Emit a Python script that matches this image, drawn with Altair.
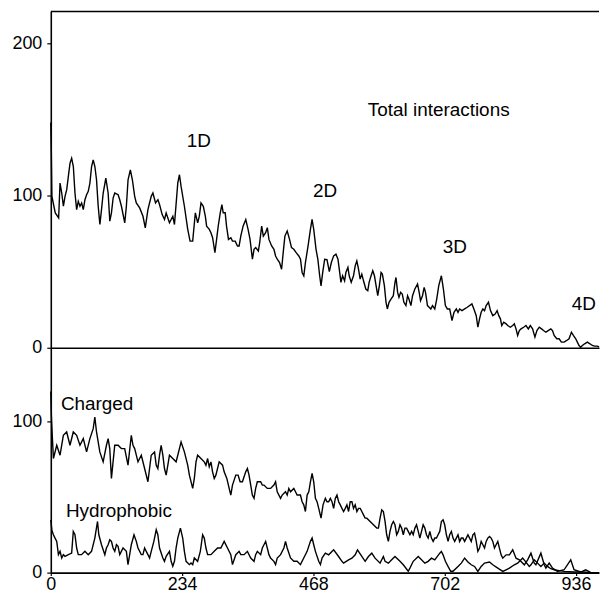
import altair as alt
import pandas as pd

# ---------------- data ----------------
x_ticks = [0, 234, 468, 702, 936]
top_y_ticks = [0, 100, 200]
bottom_y_ticks = [0, 100]

total_x = [0, 1, 2, 8, 14, 16.5, 19.5, 22.5, 25.4, 28.4, 31.3, 34.3, 37.2, 40.2, 43.1, 46.1, 49, 52, 55, 57.9,
           60.9, 63.8, 66.8, 69.7, 72.7, 75.6, 78.6, 81.5, 84.5, 87.5, 90.4, 93.4, 98.1, 102.2, 105.2, 108.1,
           111.1, 114, 120, 122.9, 125.9, 131.8, 134.7, 137.7, 141.8, 145.4, 149.5, 152.4, 158.4, 164.3, 168.4,
           173.1, 179, 182, 186.7, 190.9, 193.8, 198.5, 202.7, 205.6, 211.5, 217.5, 220.4, 226.3, 229.3, 232.2,
           238.1, 244, 248.2, 252.9, 257.6, 261.8, 264.7, 267.7, 271.8, 275.4, 277.7, 282.5, 285.4, 288.4, 292.5,
           295.5, 298.4, 302, 304.9, 307.3, 310.8, 313.2, 316.7, 320.9, 323.8, 328.6, 332.7, 335.6, 338.6, 342.7,
           347.5, 351.6, 355.1, 359.3, 362.2, 365.2, 369.9, 372.3, 375.8, 378.8, 382.9, 385.9, 388.8, 393.6, 397.7,
           400.6, 403.6, 407.7, 411.3, 414.2, 417.2, 421.3, 425.5, 429, 433.1, 437.3, 442, 445, 447.9, 450.9, 453.8,
           458.5, 462.7, 465.6, 468.6, 472.7, 475.9, 479.2, 481.6, 484.6, 488.1, 492.2, 496.4, 500, 504.1, 508.2,
           511.8, 514.1, 517.1, 520, 523.6, 525.9, 529.5, 531.8, 535.4, 539.5, 542.5, 545.4, 548.4, 551.3, 554.3,
           557.3, 561.4, 564.9, 567.3, 570.8, 573.8, 576.8, 579.7, 582.7, 585.6, 588.6, 590.9, 594.5, 597.4, 599.8,
           602.8, 606.3, 610.4, 613.4, 615.2, 618.1, 620.5, 623.4, 626.4, 629.3, 632.9, 635.8, 638.2, 641.8, 644.7,
           648.8, 653.6, 656.5, 658.9, 662.4, 665.4, 667.8, 671.3, 674.3, 677.2, 680.2, 684.3, 687.8, 691.4, 696.1,
           699.7, 703.2, 706.8, 710.9, 715, 718.6, 722.7, 725.7, 728.6, 732.8, 737.5, 742.2, 750.5, 754, 758.2,
           761.1, 764.1, 767, 770, 773, 775.9, 780, 783.6, 787.7, 791.9, 795.4, 798.4, 801.3, 803.7, 807.2, 811.4,
           814.3, 819, 823.2, 826.1, 829.1, 832, 835, 838, 842.7, 846.8, 851, 854.5, 858.6, 862.8, 866.3, 870.5,
           874.6, 878.1, 882.3, 886.4, 891.1, 894.1, 897, 901.8, 905.9, 910, 914.8, 919.5, 923.6, 927.8, 931.3,
           935.5, 938.4, 941.4, 944.3, 947.3, 951.4, 956.2, 960.9, 965, 969.1, 973.9, 977]
total_y = [148, 128, 99.5, 88.6, 85.3, 108.2, 101.7, 93, 99.5, 103.9, 112.6, 121.3, 124.6, 119.1, 101.7, 90.8, 96.2,
           93, 95.2, 90.8, 97.3, 100.6, 102.8, 108.2, 119.1, 123.5, 119.1, 110.4, 93, 81, 90.8, 101.7, 111.5, 101.7,
           83.2, 88.6, 98.4, 101.7, 100.6, 97.3, 93, 82.1, 93, 110.4, 116.9, 110.4, 99.5, 95.2, 91.9, 86.4, 78.8,
           90.8, 99.5, 101.7, 95.2, 97.3, 94.1, 87.5, 84.3, 88.6, 82.1, 86.4, 81, 108.2, 113.7, 106, 93, 78, 70.1,
           70.1, 88.7, 82.1, 86.5, 95.2, 93, 86.5, 79.9, 77.8, 75.6, 72.3, 62.5, 71.2, 79.9, 88.7, 94.1, 88.7, 88.7,
           79.9, 71.2, 72.3, 70.1, 70.1, 66.9, 66.9, 73.4, 79.9, 84.3, 77.8, 71.2, 58.2, 64.7, 65.8, 63.6, 69, 79.9,
           73.4, 75.6, 78.9, 71.2, 66.9, 64.7, 60.3, 58.2, 56, 51.6, 62.5, 73.4, 76.7, 71.2, 65.8, 64.7, 62.5, 60.3,
           58.2, 49.5, 47.3, 56, 66.9, 77.8, 84.3, 77.8, 64.7, 58.2, 47.3, 40.7, 49.5, 58.2, 58, 50, 56, 60.4, 61.5,
           58.2, 51.7, 43, 47.3, 44, 49.5, 52.8, 47.3, 43, 47.3, 53.8, 57.1, 51.7, 45.1, 48.4, 44, 38.6, 37.5, 43,
           47.3, 50.6, 47.3, 40.8, 34.2, 40.8, 49.5, 48.4, 40.8, 29.9, 25.5, 29.9, 32, 34.2, 43, 46.2, 36.4, 33.1,
           36.4, 35.3, 29.9, 27.7, 34.2, 32, 27.7, 34.2, 38.6, 41.9, 36.4, 31, 34.2, 39.7, 36.4, 27.7, 26.6, 25.5,
           27.7, 25.5, 32, 40.8, 47.3, 38.6, 27.7, 25.5, 25.5, 17.9, 23.3, 25.5, 23.3, 25.5, 24.4, 25.5, 26.6, 28.8,
           25.5, 21.1, 13.5, 19, 23.3, 25.5, 24.4, 27.7, 29.9, 24.4, 21.1, 22.2, 24.4, 21.1, 19, 14.6, 16.8, 15.7,
           14.6, 13.5, 14.6, 15.7, 12.4, 8.1, 11.3, 12.4, 13.5, 14.6, 12.4, 14.6, 12.4, 7, 11.3, 13.5, 12.4, 11.3,
           10.2, 11.3, 12.4, 11.3, 8.1, 5.9, 5.9, 3.7, 3.7, 4.8, 5.9, 10.2, 8.1, 5.9, 3.7, 1.5, 0.4, 1.5, 2.6, 3.7,
           2.6, 1.5, 1.1, 1.1, 0.6]

charged_x = [0, 1, 3, 4.7, 10.6, 16.5, 22.4, 28.3, 34.2, 40.1, 46.1, 52, 57.9, 63.8, 69.7, 75.6, 78.5, 81.5, 87.4,
             93.3, 99.2, 102.2, 105.1, 108.1, 111, 114, 119.9, 125.8, 131.7, 137.6, 143.5, 146.5, 149.5, 155.4,
             161.3, 167.2, 173.1, 179, 184.9, 187.9, 190.8, 193.8, 196.7, 199.7, 202.6, 205.6, 208.6, 211.5, 217.4,
             223.3, 226.3, 232.2, 238.1, 244, 247, 252.9, 255.8, 258.8, 261.7, 267.6, 273.5, 276.5, 279.5, 282.4,
             285.4, 288.3, 291.3, 294.2, 300.1, 306.1, 309, 313.7, 317.9, 320.8, 323.8, 329.7, 333.8, 337.4, 341.5,
             347.4, 350.4, 353.3, 356.3, 359.2, 362.2, 365.1, 368.1, 374, 377, 379.9, 385.8, 391.7, 397.6, 400.6,
             403.5, 409.5, 412.4, 418.3, 421.3, 424.2, 427.2, 433.1, 436.1, 439, 444.9, 447.9, 450.8, 453.8, 456.8,
             459.8, 462.7, 465.7, 468.6, 471.6, 474.5, 477.5, 481.6, 485.2, 489.3, 492.3, 495.2, 498.2, 501.1,
             504.1, 507, 510, 513, 515.9, 518.9, 521.8, 524.8, 527.7, 530.7, 533.6, 536.6, 539.5, 542.5, 545.5,
             548.4, 551.4, 554.3, 557.3, 560.2, 563.2, 569.1, 575, 580.9, 583.9, 586.8, 589.8, 592.7, 595.7, 598.6,
             601.6, 604.5, 607.5, 610.5, 613.4, 616.4, 619.3, 622.3, 625.2, 628.2, 631.1, 634.1, 637, 640, 643,
             645.9, 648.9, 651.8, 654.8, 657.7, 660.7, 663.6, 666.6, 669.5, 672.5, 675.5, 678.4, 681.4, 684.3,
             687.3, 690.2, 693.2, 696.1, 699.1, 702, 705, 708, 710.9, 713.9, 716.8, 719.8, 722.7, 725.7, 728.6,
             731.6, 734.5, 737.5, 740.5, 743.4, 746.4, 749.3, 752.3, 755.2, 758.2, 761.1, 764.1, 767, 770, 773,
             775.9, 778.9, 781.8, 784.8, 787.7, 790.7, 793.6, 796.6, 802.5, 805.5, 811.4, 817.3, 823.2, 829.1, 835,
             843.9, 849.8, 855.7, 861.6, 864.5, 873.4, 879.3, 882.3, 888.2, 894.1, 903, 914.8, 926.6, 932.5, 944.3,
             953.2, 962, 974, 977]
charged_y = [120, 105, 88, 75.6, 84.4, 77.8, 91, 93.2, 84.4, 93.2, 91, 84.4, 88.8, 80, 88.8, 95.4, 103.1, 93.2, 80,
             73.4, 84.4, 88.8, 82.2, 62.4, 73.4, 84.4, 84.4, 82.2, 82.2, 71.2, 91, 84.4, 82.2, 73.4, 77.8, 69, 60.2,
             77.8, 80, 71.2, 69, 77.8, 84.4, 77.8, 69, 64.6, 71.2, 77.8, 75.6, 73.4, 77.8, 86.6, 80, 71.2, 64.6, 55.8,
             62.4, 73.4, 77.8, 75.6, 73.4, 71.2, 75.6, 70.1, 73.4, 66.8, 62.4, 64.6, 73.4, 71.2, 66.8, 62.4, 55.8,
             51.4, 58, 64.6, 64.6, 60.2, 60.2, 66.8, 69, 64.6, 58, 51.4, 49.2, 55.8, 60.2, 60.2, 58, 58, 55.8, 55.8,
             58, 60.2, 53.6, 49.2, 51.4, 53.6, 51.4, 55.8, 53.6, 55.8, 53.6, 51.4, 51.4, 47, 44.9, 40.5, 51.4, 53.6,
             60.2, 65.7, 60.2, 49.2, 47, 42.6, 36.1, 44.9, 49.2, 47, 47, 49.2, 47, 42.6, 49.2, 51.4, 47, 44.9, 42.6,
             40.5, 42.6, 44.9, 40.5, 47, 47, 42.6, 44.9, 40.5, 42.6, 42.6, 40.5, 38.3, 36.1, 36.1, 33.9, 31.7, 29.5,
             29.5, 36.1, 41.6, 40.5, 33.9, 25.1, 20.7, 27.3, 31.7, 33.9, 31.7, 25.1, 27.3, 31.7, 29.5, 25.1, 29.5,
             29.5, 27.3, 25.1, 27.3, 25.1, 29.5, 31.7, 27.3, 22.9, 27.3, 31.7, 29.5, 25.1, 22.9, 27.3, 22.9, 20.7,
             22.9, 22.9, 25.1, 27.3, 33.9, 35, 31.7, 25.1, 20.7, 25.1, 27.3, 22.9, 20.7, 22.9, 25.1, 20.7, 22.9,
             22.9, 20.7, 22.9, 25.1, 22.9, 20.7, 25.1, 26.2, 20.7, 14.1, 16.3, 20.7, 18.5, 16.3, 20.7, 22.9, 24,
             22.9, 20.7, 16.3, 18.5, 20.6, 11.8, 9.6, 11.8, 11.8, 15.1, 9.6, 8.5, 5.2, 8.5, 12.9, 6.3, 5.2, 12.9,
             5.2, 3, 6.3, 3, 0.8, 1.9, 8.5, 1.9, 0.4, 1.9, 0.2, 0, 0]

hydro_x = [0, 2, 4.7, 7.6, 10.6, 13.6, 16.5, 19.5, 22.4, 25.4, 31.3, 37.2, 40.1, 43.1, 46.1, 49, 54.9, 60.8, 66.7,
           72.6, 78.5, 83.3, 85.6, 90.4, 96.3, 99.2, 102.2, 105.1, 108.1, 111, 114, 117, 119.9, 122.9, 128.8, 134.7,
           137.6, 140.6, 143.5, 148.3, 152.4, 155.4, 161.3, 164.2, 167.2, 170.1, 173.1, 176.1, 179, 183.7, 187.9,
           190.8, 193.8, 199.7, 202.6, 205.6, 211.5, 214.5, 217.4, 220.4, 223.3, 226.3, 231, 235.1, 238.1, 241.1,
           247, 249.9, 252.9, 255.8, 261.7, 266.5, 270.6, 273.5, 276.5, 279.5, 285.4, 291.3, 297.2, 303.1, 309,
           314.9, 320.8, 323.8, 329.7, 335.6, 338.6, 344.5, 350.4, 356.3, 362.2, 365.1, 368.1, 374, 377, 379.9,
           382.9, 385.8, 388.8, 391.7, 397.6, 400.6, 403.5, 409.5, 415.4, 418.3, 421.3, 427.2, 433.1, 439, 444.9,
           450.8, 456.8, 462.7, 465.7, 468.6, 471.6, 477.5, 480.5, 483.4, 489.3, 495.2, 504.1, 512.9, 518.8, 521.8,
           530.7, 536.6, 542.5, 546.6, 554.3, 560.2, 566.1, 572, 577.9, 586.8, 592.7, 595.7, 601.6, 607.5, 613.4,
           622.3, 628.2, 637, 640, 645.9, 654.8, 660.7, 666.6, 672.5, 678.4, 684.3, 693.2, 696.1, 699.1, 703.2,
           707.9, 712.7, 716.8, 725.7, 731.6, 737.5, 743.4, 749.3, 755.2, 761.1, 767, 773, 781.8, 787.7, 796.6,
           805.5, 811.4, 817.3, 826.1, 832, 838, 840.9, 846.8, 852.7, 855.7, 861.6, 867.5, 873.4, 879.3, 885.2,
           891.1, 897, 905.9, 914.8, 932.5, 950.2, 962, 977]
hydro_y = [35, 28, 25.1, 22.9, 20.7, 11.9, 14.1, 9.7, 11.9, 10.8, 11.9, 13, 27.3, 25.1, 16.3, 11.9, 11.9, 14.1, 11.9,
           14.1, 22.9, 33.9, 25.1, 18.5, 11.9, 16.3, 18.5, 21.8, 20.7, 16.3, 14.1, 18.5, 17.4, 11.9, 16.3, 14.1, 5.3,
           11.9, 18.5, 25.1, 20.7, 16.3, 11.9, 11.9, 16.3, 14.1, 11.9, 9.7, 14.1, 20.7, 28.4, 25.1, 16.3, 9.7, 7.5,
           10.8, 14.1, 7.5, 4.2, 7.5, 16.3, 22.9, 29.5, 22.9, 14.1, 7.5, 5.3, 6.4, 5.3, 9.7, 7.5, 14.1, 25.1, 22.9,
           16.3, 11.9, 11.9, 14.1, 16.3, 16.3, 20.7, 16.3, 11.9, 5.3, 11.9, 14.1, 11.9, 11.9, 14.1, 9.7, 7.5, 11.9,
           14.1, 11.9, 16.3, 18.5, 20.7, 16.3, 11.9, 9.7, 7.5, 5.3, 9.7, 11.9, 16.3, 20.7, 16.3, 9.7, 7.5, 7.5, 5.3,
           9.7, 14.1, 20.7, 22.9, 18.5, 14.1, 7.5, 5.3, 9.7, 12.9, 11.8, 15.1, 10.7, 7.5, 6.3, 8.5, 9.6, 11.8, 15.1,
           10.7, 7.5, 10.7, 12.9, 9.6, 6.3, 10.7, 7.5, 6.3, 8.5, 10.7, 7.5, 5.2, 0.9, 3, 7.5, 10.7, 8.5, 6.3, 7.5,
           9.6, 8.5, 12.9, 14, 11.8, 7.5, 4.1, 0.9, 0.9, 4.1, 6.3, 9.6, 7, 5.2, 4.1, 0.8, 4.1, 6.3, 7, 5.2, 3, 0.8,
           1.9, 3, 5.2, 6.3, 8.5, 9.6, 7, 4.1, 5.2, 8.5, 6.3, 4.1, 6.3, 4.1, 2.6, 1.9, 1.3, 0.8, 0.4, 0.4, 0, 0]

# text annotations (data units)
top_notes = ["1D", "2D", "3D", "4D"]
top_notes_x = [264, 489, 720, 950]
top_notes_y = [136, 103, 66, 29]
title_text = ["Total interactions"]
title_x = [565]
title_y = [156]
bottom_notes = ["Charged", "Hydrophobic"]
bottom_notes_x = [18, 27]
bottom_notes_y = [112, 41]

# ---------------- chart ----------------
W = 551
H_TOP = 338
H_BOT = 226
X_MAX = 977
TOP_MAX = 221
BOT_MAX = 149
FONT = "Liberation Sans"
LABEL_SIZE = 18
NOTE_SIZE = 19


def axis(**kw):
    base = dict(title=None, grid=False, labelFont=FONT, labelFontSize=LABEL_SIZE, labelColor="black",
                tickColor="black", tickSize=4, tickWidth=1.2, domainColor="black", domainWidth=1.6,
                labelPadding=5, labelFlush=False)
    base.update(kw)
    return alt.Axis(**base)


x_scale = alt.Scale(domain=[0, X_MAX], nice=False, zero=False)

top_df = pd.DataFrame({"x": total_x, "y": total_y})
top_line = alt.Chart(top_df).mark_line(color="black", strokeWidth=1.4).encode(
    x=alt.X("x:Q", scale=x_scale, axis=axis(values=x_ticks, labels=False, ticks=False)),
    y=alt.Y("y:Q", scale=alt.Scale(domain=[0, TOP_MAX], nice=False), axis=axis(values=top_y_ticks)),
)
top_border = alt.Chart(pd.DataFrame({"v": [TOP_MAX]})).mark_rule(
    color="black", strokeWidth=1.6).encode(y="v:Q")
top_text = alt.Chart(pd.DataFrame({"t": top_notes, "x": top_notes_x, "y": top_notes_y})).mark_text(
    font=FONT, fontSize=NOTE_SIZE, color="black", align="center", baseline="middle").encode(
    x="x:Q", y="y:Q", text="t:N")
top_title = alt.Chart(pd.DataFrame({"t": title_text, "x": title_x, "y": title_y})).mark_text(
    font=FONT, fontSize=NOTE_SIZE, color="black", align="left", baseline="middle").encode(
    x="x:Q", y="y:Q", text="t:N")
top = alt.layer(top_line, top_border, top_text, top_title).properties(width=W, height=H_TOP)

bot_df = pd.concat([
    pd.DataFrame({"x": charged_x, "y": charged_y, "s": "Charged"}),
    pd.DataFrame({"x": hydro_x, "y": hydro_y, "s": "Hydrophobic"}),
])
bot_line = alt.Chart(bot_df).mark_line(color="black", strokeWidth=1.4).encode(
    x=alt.X("x:Q", scale=x_scale, axis=axis(values=x_ticks, labelPadding=0, tickSize=3)),
    y=alt.Y("y:Q", scale=alt.Scale(domain=[0, BOT_MAX], nice=False), axis=axis(values=bottom_y_ticks)),
    detail="s:N",
)
bot_text = alt.Chart(pd.DataFrame({"t": bottom_notes, "x": bottom_notes_x, "y": bottom_notes_y})).mark_text(
    font=FONT, fontSize=NOTE_SIZE, color="black", align="left", baseline="middle").encode(
    x="x:Q", y="y:Q", text="t:N")
bottom = alt.layer(bot_line, bot_text).properties(width=W, height=H_BOT)

chart = alt.vconcat(top, bottom, spacing=0, bounds="flush").properties(
    padding={"left": 3, "top": 1, "right": 0, "bottom": 0},
    background="white",
).configure_view(stroke=None).configure_axis(grid=False)

chart.save("out.html", embed_options={"renderer": "svg", "actions": False})
